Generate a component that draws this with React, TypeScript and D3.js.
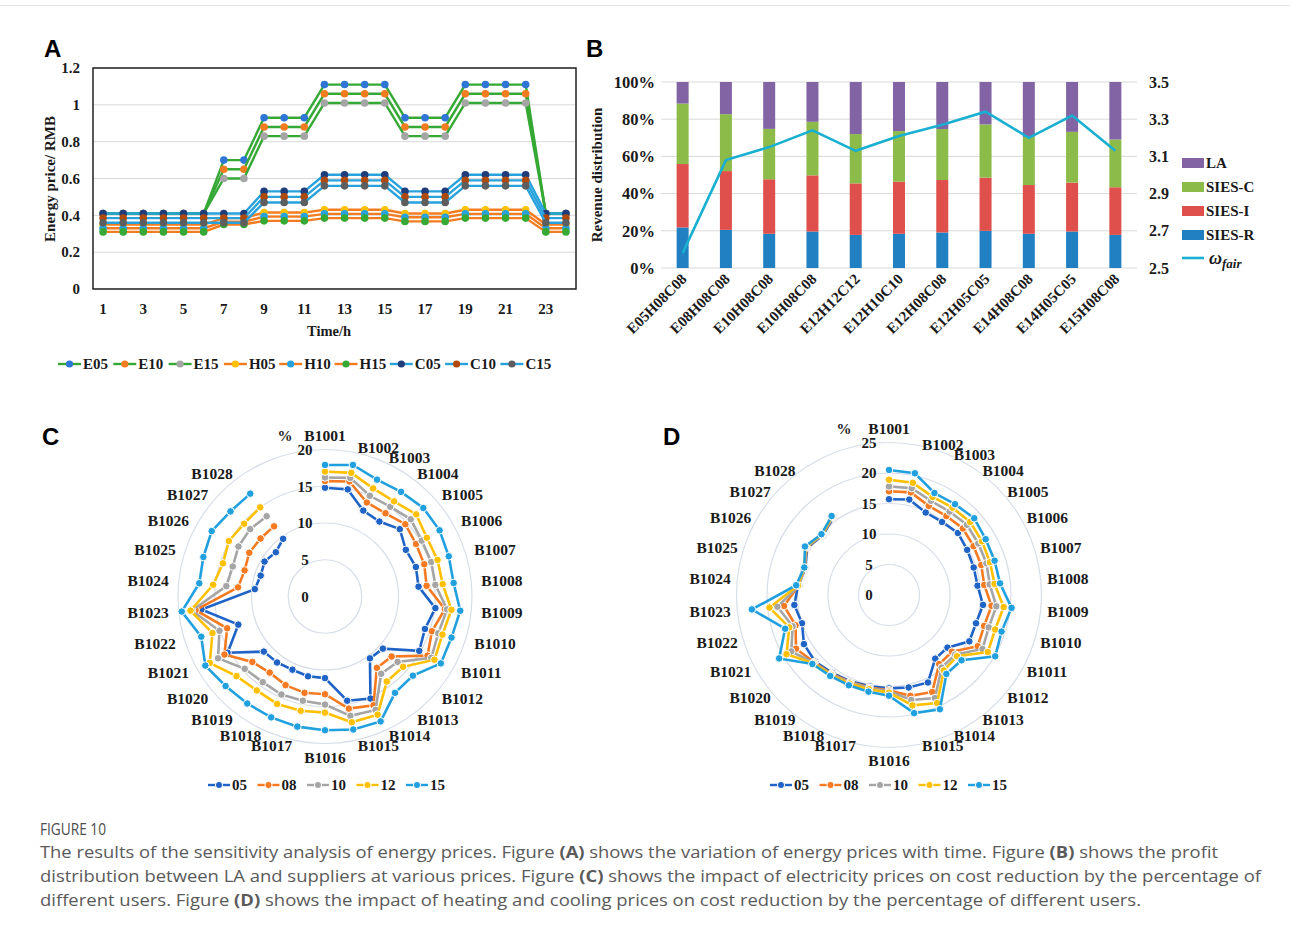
import React from 'react';
import * as d3 from 'd3';

// ---------- Panel A: energy price over the day ----------
const hours = [1, 2, 3, 4, 5, 6, 7, 8, 9, 10, 11, 12, 13, 14, 15, 16, 17, 18, 19, 20, 21, 22, 23, 24];
const hourTicks = [1, 3, 5, 7, 9, 11, 13, 15, 17, 19, 21, 23];
const priceTicks = [0, 0.2, 0.4, 0.6, 0.8, 1, 1.2];

const E05 = [0.41, 0.41, 0.41, 0.41, 0.41, 0.41, 0.70, 0.70, 0.93, 0.93, 0.93, 1.11, 1.11, 1.11, 1.11, 0.93, 0.93, 0.93, 1.11, 1.11, 1.11, 1.11, 0.41, 0.41];
const E10 = [0.41, 0.41, 0.41, 0.41, 0.41, 0.41, 0.65, 0.65, 0.88, 0.88, 0.88, 1.06, 1.06, 1.06, 1.06, 0.88, 0.88, 0.88, 1.06, 1.06, 1.06, 1.06, 0.41, 0.41];
const E15 = [0.41, 0.41, 0.41, 0.41, 0.41, 0.41, 0.60, 0.60, 0.83, 0.83, 0.83, 1.01, 1.01, 1.01, 1.01, 0.83, 0.83, 0.83, 1.01, 1.01, 1.01, 1.01, 0.41, 0.41];
const H05 = [0.35, 0.35, 0.35, 0.35, 0.35, 0.35, 0.385, 0.385, 0.415, 0.415, 0.415, 0.43, 0.43, 0.43, 0.43, 0.41, 0.41, 0.41, 0.43, 0.43, 0.43, 0.43, 0.35, 0.35];
const H10 = [0.33, 0.33, 0.33, 0.33, 0.33, 0.33, 0.365, 0.365, 0.393, 0.393, 0.393, 0.408, 0.408, 0.408, 0.408, 0.39, 0.39, 0.39, 0.408, 0.408, 0.408, 0.408, 0.33, 0.33];
const H15 = [0.31, 0.31, 0.31, 0.31, 0.31, 0.31, 0.35, 0.35, 0.37, 0.37, 0.37, 0.385, 0.385, 0.385, 0.385, 0.367, 0.367, 0.367, 0.385, 0.385, 0.385, 0.385, 0.31, 0.31];
const C05 = [0.41, 0.41, 0.41, 0.41, 0.41, 0.41, 0.41, 0.41, 0.53, 0.53, 0.53, 0.62, 0.62, 0.62, 0.62, 0.53, 0.53, 0.53, 0.62, 0.62, 0.62, 0.62, 0.41, 0.41];
const C10 = [0.385, 0.385, 0.385, 0.385, 0.385, 0.385, 0.385, 0.385, 0.50, 0.50, 0.50, 0.59, 0.59, 0.59, 0.59, 0.50, 0.50, 0.50, 0.59, 0.59, 0.59, 0.59, 0.385, 0.385];
const C15 = [0.36, 0.36, 0.36, 0.36, 0.36, 0.36, 0.36, 0.36, 0.47, 0.47, 0.47, 0.56, 0.56, 0.56, 0.56, 0.47, 0.47, 0.47, 0.56, 0.56, 0.56, 0.56, 0.36, 0.36];

const GREEN = '#36a835';
const ORANGE = '#f47c20';
const SKY = '#27a2dc';

const priceSeries = [
  { name: 'E05', values: E05, line: GREEN, dot: '#2e75d6' },
  { name: 'E10', values: E10, line: GREEN, dot: ORANGE },
  { name: 'E15', values: E15, line: GREEN, dot: '#a5a5a5' },
  { name: 'H05', values: H05, line: ORANGE, dot: '#ffc000' },
  { name: 'H10', values: H10, line: ORANGE, dot: SKY },
  { name: 'H15', values: H15, line: ORANGE, dot: GREEN },
  { name: 'C05', values: C05, line: SKY, dot: '#1f3d7a' },
  { name: 'C10', values: C10, line: SKY, dot: '#b04a0c' },
  { name: 'C15', values: C15, line: SKY, dot: '#5e5e5e' },
];

// ---------- Panel B: revenue distribution ----------
const mixCats = ['E05H08C08', 'E08H08C08', 'E10H08C08', 'E10H08C08', 'E12H12C12', 'E12H10C10', 'E12H08C08', 'E12H05C05', 'E14H08C08', 'E14H05C05', 'E15H08C08'];
const shareR = [21.8, 20.5, 18.4, 19.6, 17.8, 18.4, 19.1, 20.0, 18.4, 19.6, 17.8];
const shareI = [34.1, 31.6, 29.3, 30.2, 27.7, 28.0, 28.2, 28.6, 26.2, 26.3, 25.6];
const shareC = [32.5, 30.6, 27.1, 28.8, 26.5, 27.2, 27.4, 28.6, 25.9, 27.3, 25.7];
const shareLA = [11.6, 17.3, 25.2, 21.4, 28.0, 26.4, 25.3, 22.8, 29.5, 26.8, 30.9];
const omegaFair = [2.58, 3.08, 3.15, 3.24, 3.13, 3.21, 3.27, 3.34, 3.20, 3.32, 3.13];
const shareTicks = [0, 20, 40, 60, 80, 100];
const omegaTicks = [2.5, 2.7, 2.9, 3.1, 3.3, 3.5];

const stackKeys = ['SIES-R', 'SIES-I', 'SIES-C', 'LA'];
const stackColors: Record<string, string> = { 'SIES-R': '#2180c2', 'SIES-I': '#df4f4b', 'SIES-C': '#8cbb4a', LA: '#8264a4' };
const OMEGA = '#19afd0';

// ---------- Panels C / D: cost reduction by user ----------
// 30 slots on the radar; the last two are empty in the original sheet
const users = ['B1001', 'B1002', 'B1003', 'B1004', 'B1005', 'B1006', 'B1007', 'B1008', 'B1009', 'B1010',
  'B1011', 'B1012', 'B1013', 'B1014', 'B1015', 'B1016', 'B1017', 'B1018', 'B1019', 'B1020',
  'B1021', 'B1022', 'B1023', 'B1024', 'B1025', 'B1026', 'B1027', 'B1028', '', ''];
const levels = ['05', '08', '10', '12', '15'];
const levelColors = ['#1f63c6', '#f57a22', '#a5a5a5', '#ffc000', '#21a0df'];

const elec05 = [14.8, 14.9, 12.8, 12.6, 13.7, 12.7, 13.0, 12.8, 15.1, 14.3, 14.8, 10.6, 10.4, 15.2, 14.5, 11.1, 11.1, 10.9, 11.1, 11.2, 15.3, 12.4, 16.9, 9.6, 9.2, 9.5, 9.0, 9.7];
const elec08 = [15.7, 16.0, 14.0, 14.0, 14.7, 14.3, 14.2, 13.9, 16.4, 15.3, 16.1, 12.2, 12.0, 16.2, 15.6, 13.3, 13.4, 13.2, 12.8, 13.3, 15.8, 14.0, 17.7, 11.9, 11.5, 11.9, 11.8, 11.8];
const elec10 = [16.2, 16.5, 15.0, 15.1, 15.7, 15.2, 15.2, 15.1, 16.7, 16.2, 16.7, 13.3, 13.0, 16.9, 16.6, 14.7, 14.5, 14.6, 14.4, 14.7, 16.8, 15.1, 18.2, 13.5, 13.2, 13.6, 13.7, 13.5];
const elec12 = [17.0, 17.2, 16.1, 16.0, 16.7, 16.0, 16.1, 16.1, 17.3, 16.8, 17.2, 14.3, 14.3, 17.6, 17.5, 15.8, 15.9, 16.0, 15.8, 16.2, 18.1, 16.1, 18.4, 15.3, 14.6, 15.1, 14.8, 15.0];
const elec15 = [17.9, 18.3, 17.4, 17.6, 18.0, 18.0, 17.7, 17.6, 18.5, 18.1, 18.2, 16.1, 16.2, 18.6, 18.5, 18.2, 18.1, 18.0, 18.0, 18.2, 18.8, 17.7, 19.6, 17.2, 17.4, 17.8, 17.3, 17.3];

const heat05 = [15.7, 16.0, 14.8, 14.8, 15.2, 14.8, 14.6, 14.6, 15.5, 15.0, 15.2, 12.9, 12.9, 15.7, 15.5, 15.3, 15.3, 15.5, 15.8, 16.3, 16.1, 15.0, 15.6, 15.0, 14.4, 15.5, 14.6, 15.6];
const heat08 = [17.0, 17.2, 16.0, 16.0, 16.3, 16.0, 15.9, 15.7, 16.9, 16.4, 16.8, 13.9, 14.0, 17.4, 16.9, 15.6, 15.5, 15.6, 16.0, 16.5, 17.6, 16.1, 17.3, 14.9, 14.5, 15.6, 14.7, 15.7];
const heat10 = [17.8, 17.9, 16.9, 16.9, 17.2, 16.9, 16.8, 16.6, 17.7, 17.2, 17.7, 14.6, 14.7, 18.5, 17.6, 15.8, 15.6, 15.7, 16.1, 16.6, 18.5, 16.6, 18.4, 14.8, 14.5, 15.7, 14.7, 15.8];
const heat12 = [18.9, 18.8, 17.6, 17.7, 17.9, 17.6, 17.4, 17.4, 18.9, 18.3, 18.7, 15.0, 15.3, 19.4, 18.5, 16.0, 15.8, 15.9, 16.2, 16.7, 19.4, 17.2, 19.7, 15.0, 14.6, 15.8, 14.8, 15.9];
const heat15 = [20.5, 20.4, 18.3, 18.4, 18.8, 18.3, 18.2, 18.3, 20.2, 19.4, 20.1, 16.0, 16.0, 20.5, 19.8, 16.5, 16.2, 16.2, 16.4, 16.9, 20.8, 17.9, 22.6, 15.3, 14.6, 15.9, 14.9, 16.0];

const elecTicks = [0, 5, 10, 15, 20];
const heatTicks = [0, 5, 10, 15, 20, 25];

const serif = '"Liberation Serif", "Times New Roman", serif';
const sans = '"Liberation Sans", Arial, sans-serif';

function PanelA() {
  const x = d3.scaleBand<number>().domain(hours).range([93, 576]);
  const y = d3.scaleLinear().domain([0, 1.2]).range([289, 68]);
  const px = (h: number) => (x(h) ?? 0) + x.bandwidth() / 2;
  const line = d3.line<number>().x((_, i) => px(hours[i])).y((d) => y(d));

  return (
    <g fontFamily={serif} fontWeight="bold" fill="#1a1a1a">
      {priceTicks.map((t) => (
        <line key={t} x1={93} x2={576} y1={y(t)} y2={y(t)} stroke="#d9d9d9" strokeWidth={1} />
      ))}
      {priceSeries.map((s) => (
        <g key={s.name}>
          <path d={line(s.values) ?? ''} fill="none" stroke={s.line} strokeWidth={2.4} />
          {s.values.map((v, i) => (
            <circle key={i} cx={px(hours[i])} cy={y(v)} r={3.8} fill={s.dot} />
          ))}
        </g>
      ))}
      <rect x={93} y={68} width={483} height={221} fill="none" stroke="#222" strokeWidth={1.5} />
      {priceTicks.map((t) => (
        <text key={t} x={80} y={y(t)} dy="0.35em" textAnchor="end" fontSize={15}>{t}</text>
      ))}
      {hourTicks.map((h) => (
        <text key={h} x={px(h)} y={314} textAnchor="middle" fontSize={15}>{h}</text>
      ))}
      <text x={329} y={336} textAnchor="middle" fontSize={14.5}>Time/h</text>
      <text transform="translate(55,179) rotate(-90)" textAnchor="middle" fontSize={15}>Energy price/ RMB</text>
      {priceSeries.map((s, i) => {
        const lx = 58 + i * 55.3;
        return (
          <g key={s.name}>
            <line x1={lx} x2={lx + 23} y1={364} y2={364} stroke={s.line} strokeWidth={2.4} />
            <circle cx={lx + 11.5} cy={364} r={3.6} fill={s.dot} />
            <text x={lx + 25} y={369} fontSize={15}>{s.name}</text>
          </g>
        );
      })}
      <text x={44} y={57} fontFamily={sans} fontSize={24} fontWeight="bold" fill="#000">A</text>
    </g>
  );
}

function PanelB() {
  const idx = mixCats.map((_, i) => String(i));
  const x = d3.scaleBand<string>().domain(idx).range([661, 1137]);
  const yL = d3.scaleLinear().domain([0, 100]).range([268, 82]);
  const yR = d3.scaleLinear().domain([2.5, 3.5]).range([268, 82]);
  const rows = mixCats.map((_, i) => ({
    'SIES-R': shareR[i], 'SIES-I': shareI[i], 'SIES-C': shareC[i], LA: shareLA[i],
  }));
  const stacked = d3.stack<any>().keys(stackKeys)(rows);
  const bw = 12;
  const mid = (i: number) => (x(String(i)) ?? 0) + x.bandwidth() / 2;
  const omegaLine = d3.line<number>().x((_, i) => mid(i)).y((d) => yR(d));
  const legendRows = ['LA', 'SIES-C', 'SIES-I', 'SIES-R'];

  return (
    <g fontFamily={serif} fontWeight="bold" fill="#1a1a1a">
      {shareTicks.map((t) => (
        <line key={t} x1={661} x2={1137} y1={yL(t)} y2={yL(t)} stroke="#d9d9d9" />
      ))}
      {stacked.map((layer) => (
        <g key={layer.key} fill={stackColors[layer.key]}>
          {layer.map((seg, i) => (
            <rect key={i} x={mid(i) - bw / 2} width={bw} y={yL(seg[1])} height={yL(seg[0]) - yL(seg[1])} />
          ))}
        </g>
      ))}
      <path d={omegaLine(omegaFair) ?? ''} fill="none" stroke={OMEGA} strokeWidth={2.6} />
      {shareTicks.map((t) => (
        <text key={t} x={655} y={yL(t)} dy="0.35em" textAnchor="end" fontSize={16.5}>{t}%</text>
      ))}
      {omegaTicks.map((t) => (
        <text key={t} x={1149} y={yR(t)} dy="0.35em" fontSize={16}>{t.toFixed(1)}</text>
      ))}
      {mixCats.map((c, i) => (
        <text key={i} transform={`translate(${mid(i) + 5},${280}) rotate(-45)`} textAnchor="end" fontSize={15}>{c}</text>
      ))}
      <text transform="translate(602,175) rotate(-90)" textAnchor="middle" fontSize={15}>Revenue distribution</text>
      {legendRows.map((k, i) => (
        <g key={k}>
          <rect x={1182} y={158 + i * 24} width={22} height={10} fill={stackColors[k]} />
          <text x={1206} y={168 + i * 24} fontSize={15}>{k}</text>
        </g>
      ))}
      <line x1={1182} x2={1204} y1={258} y2={258} stroke={OMEGA} strokeWidth={2.6} />
      <text x={1209} y={264} fontSize={18} fontStyle="italic">
        ω<tspan fontSize={13} dy={4}>fair</tspan>
      </text>
      <text x={586} y={57} fontFamily={sans} fontSize={24} fontWeight="bold" fill="#000">B</text>
    </g>
  );
}

type RadarProps = {
  cx: number; cy: number; R: number; max: number; ticks: number[]; labelR: number; poleShift: number;
  pctX: number; data: number[][]; legendX: number; letter: string; letterX: number;
};

function Radar({ cx, cy, R, max, ticks, labelR, poleShift, pctX, data, legendX, letter, letterX }: RadarProps) {
  const r = d3.scaleLinear().domain([0, max]).range([0, R]);
  const step = (2 * Math.PI) / users.length;
  const line = d3.lineRadial<number>().angle((_, i) => i * step).radius((d) => r(d));

  return (
    <g fontFamily={serif} fontWeight="bold" fill="#1a1a1a">
      {ticks.filter((t) => t > 0).map((t) => (
        <circle key={t} cx={cx} cy={cy} r={r(t)} fill="none" stroke="#d7dee8" strokeWidth={1.2} />
      ))}
      {ticks.map((t) => (
        <text key={t} x={cx - 20} y={cy - r(t)} dy="0.35em" textAnchor="middle" fontSize={15}>{t}</text>
      ))}
      <text x={cx - pctX} y={cy - R - 9} textAnchor="middle" fontSize={15}>%</text>
      {users.map((u, i) => {
        if (!u) return null;
        const a = i * step;
        const s = Math.sin(a);
        const c = Math.cos(a);
        const centred = Math.abs(s) < 0.01;
        const anchor = centred ? 'middle' : s > 0 ? 'start' : 'end';
        const off = centred ? -poleShift * c : 5 * c;
        return (
          <text key={u} x={cx + labelR * s} y={cy - labelR * c + off} dy="0.35em" textAnchor={anchor} fontSize={15.5}>{u}</text>
        );
      })}
      <g transform={`translate(${cx},${cy})`}>
        {data.map((vals, k) => (
          <g key={levels[k]}>
            <path d={line(vals) ?? ''} fill="none" stroke={levelColors[k]} strokeWidth={2.6} />
            {vals.map((v, i) => (
              <circle key={i} cx={r(v) * Math.sin(i * step)} cy={-r(v) * Math.cos(i * step)} r={3.8}
                fill={levelColors[k]} stroke="#fff" strokeWidth={1} />
            ))}
          </g>
        ))}
      </g>
      {levels.map((lv, k) => {
        const lx = legendX + k * 49.5;
        return (
          <g key={lv}>
            <line x1={lx} x2={lx + 22} y1={785} y2={785} stroke={levelColors[k]} strokeWidth={2.4} />
            <circle cx={lx + 11} cy={785} r={3.6} fill={levelColors[k]} stroke="#fff" strokeWidth={1} />
            <text x={lx + 24} y={790} fontSize={15}>{lv}</text>
          </g>
        );
      })}
      <text x={letterX} y={445} fontFamily={sans} fontSize={24} fontWeight="bold" fill="#000">{letter}</text>
    </g>
  );
}

function Caption() {
  const cap = '"Open Sans", "Noto Sans", sans-serif';
  return (
    <g fontFamily={cap} fill="#5a5a5a" fontSize={16.5}>
      <text x={40} y={835} fontSize={16} fill="#4d4d4d" textLength={66} lengthAdjust="spacingAndGlyphs">FIGURE 10</text>
      <text x={40} y={858} textLength={1178} lengthAdjust="spacingAndGlyphs">
        The results of the sensitivity analysis of energy prices. Figure <tspan fontWeight="bold">(A)</tspan> shows the variation of energy prices with time. Figure <tspan fontWeight="bold">(B)</tspan> shows the profit
      </text>
      <text x={40} y={882} textLength={1221} lengthAdjust="spacingAndGlyphs">
        distribution between LA and suppliers at various prices. Figure <tspan fontWeight="bold">(C)</tspan> shows the impact of electricity prices on cost reduction by the percentage of
      </text>
      <text x={40} y={906} textLength={1101} lengthAdjust="spacingAndGlyphs">
        different users. Figure <tspan fontWeight="bold">(D)</tspan> shows the impact of heating and cooling prices on cost reduction by the percentage of different users.
      </text>
    </g>
  );
}

export default function App() {
  return (
    <svg width={1290} height={936} style={{ position: 'absolute', left: 0, top: 0, background: '#fff' }}>
      <rect width={1290} height={936} fill="#fff" />
      <line x1={0} x2={1290} y1={5.5} y2={5.5} stroke="#e3e3e3" />
      <PanelA />
      <PanelB />
      <Radar cx={325} cy={596.5} R={147} max={20} ticks={elecTicks} labelR={157} poleShift={4} pctX={40}
        data={[elec05, elec08, elec10, elec12, elec15]} legendX={208} letter="C" letterX={42} />
      <Radar cx={889} cy={595} R={152.5} max={25} ticks={heatTicks} labelR={159} poleShift={7} pctX={45}
        data={[heat05, heat08, heat10, heat12, heat15]} legendX={770} letter="D" letterX={663} />
      <Caption />
    </svg>
  );
}
